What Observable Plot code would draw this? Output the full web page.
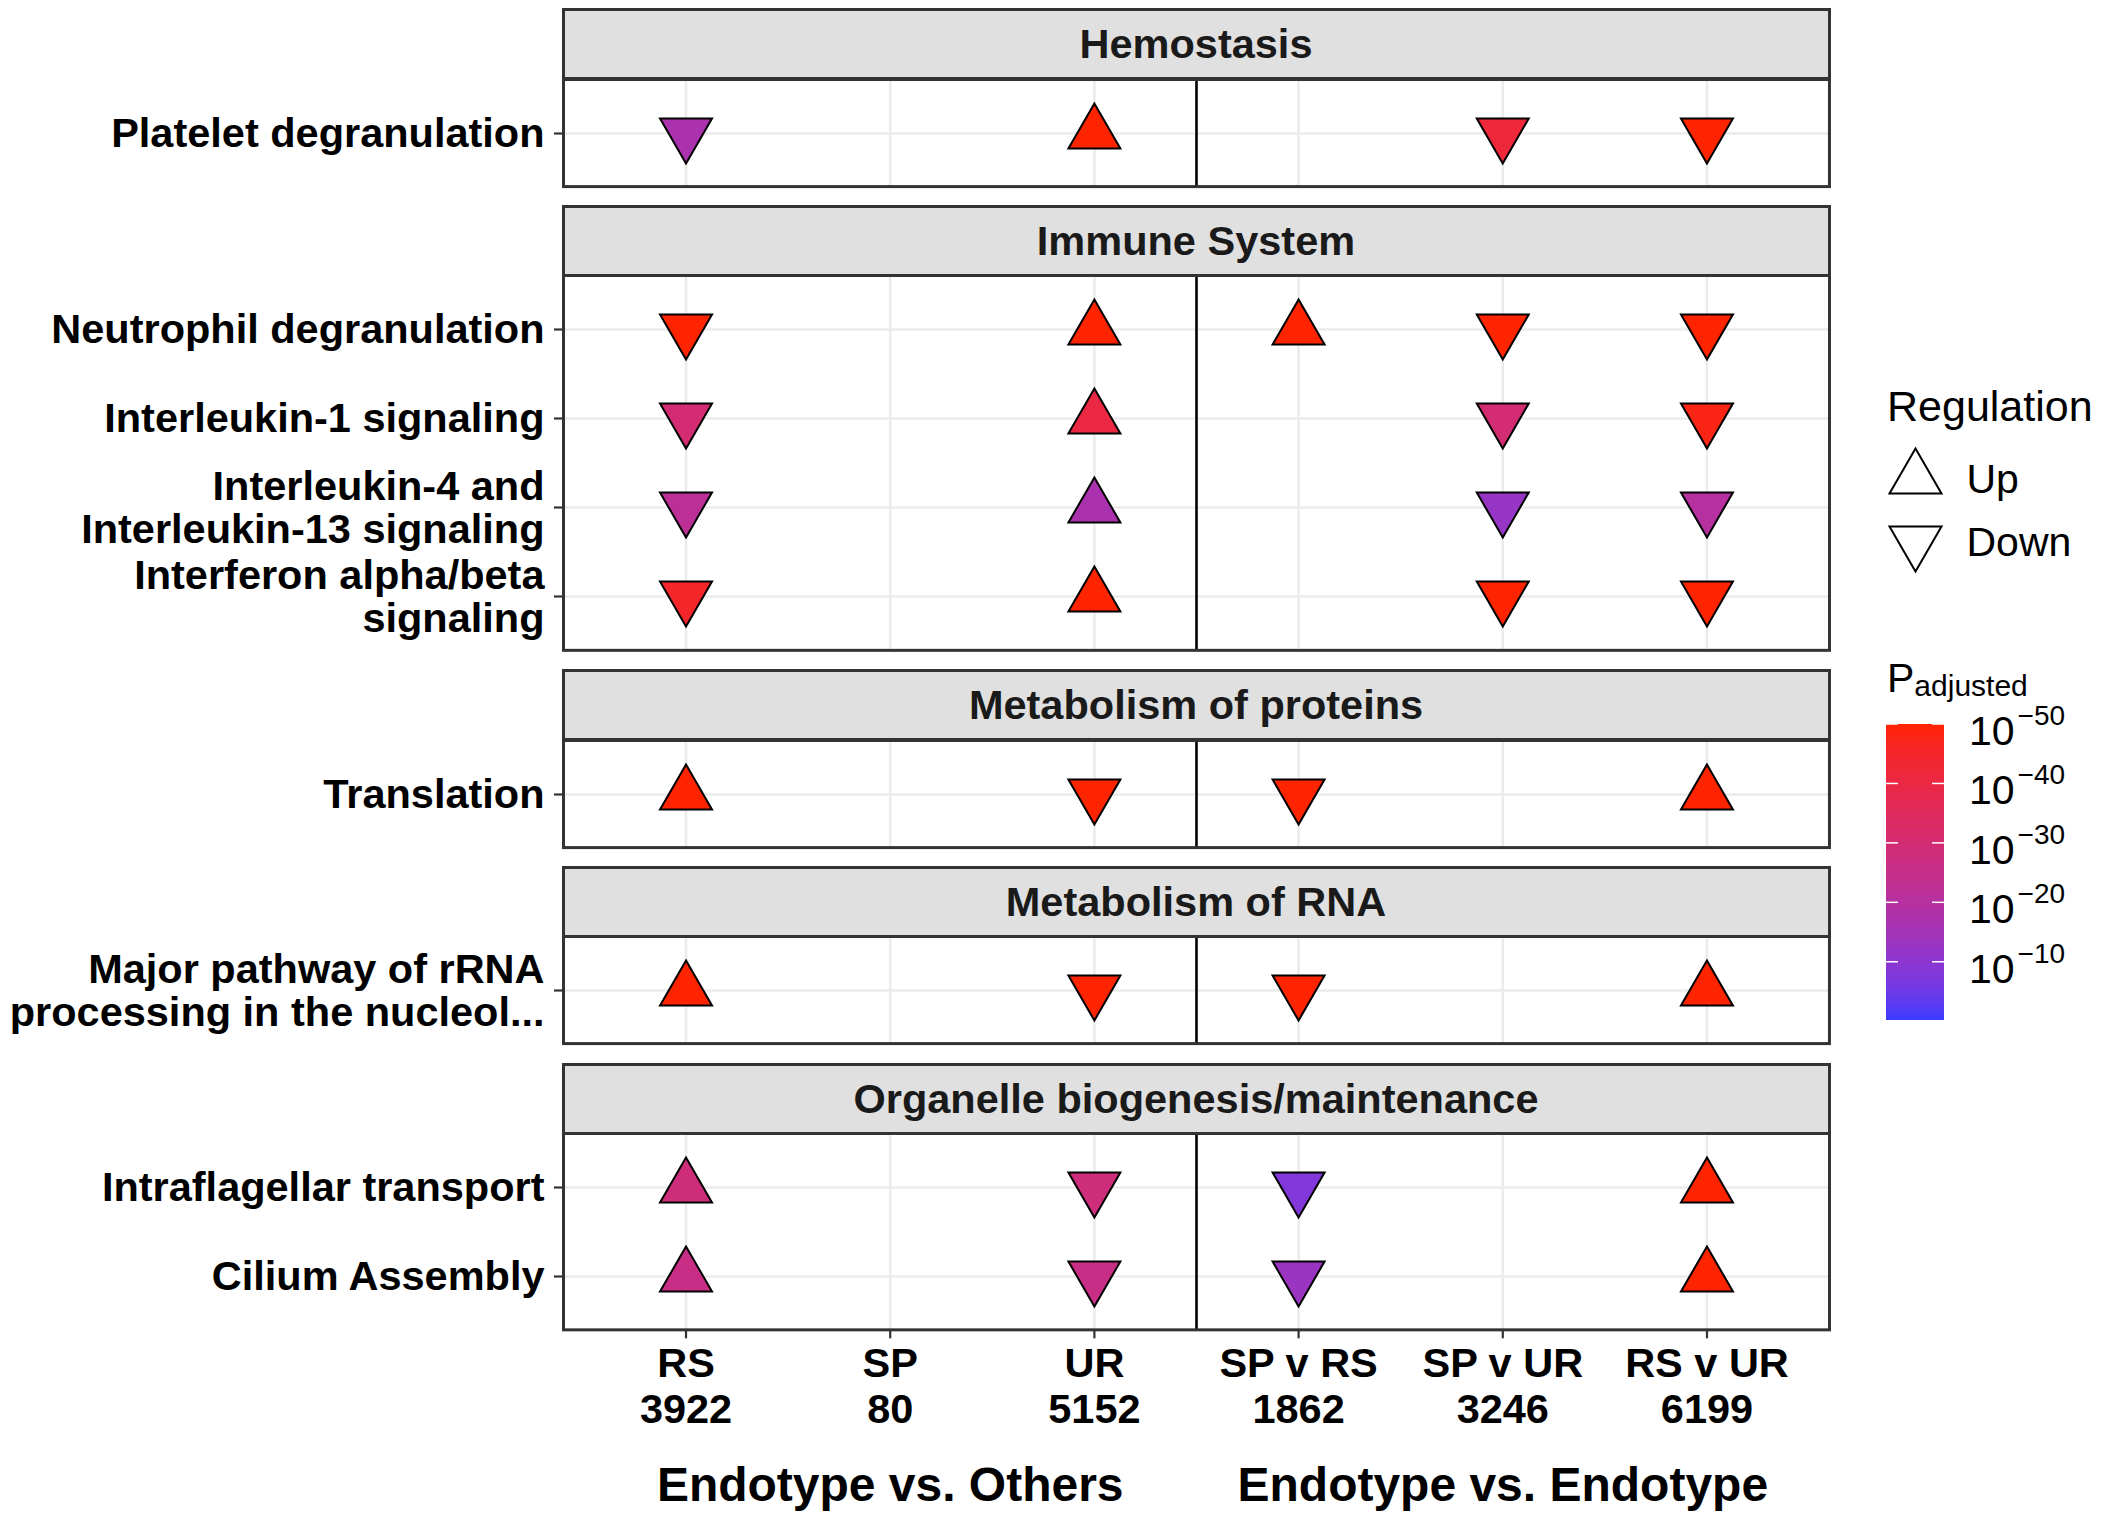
<!DOCTYPE html>
<html>
<head>
<meta charset="utf-8">
<script src="https://cdn.jsdelivr.net/npm/d3@7"></script>
<script src="https://cdn.jsdelivr.net/npm/@observablehq/plot@0.6"></script>
<style>
  html, body { margin: 0; padding: 0; background: #ffffff; }
  #root { position: relative; width: 2107px; height: 1516px; overflow: hidden; background: #ffffff;
          font-family: "Liberation Sans", Arial, Helvetica, sans-serif; }
  .strip { position: absolute; box-sizing: border-box; background: #e0e0e0; border: 3px solid #333333;
           display: flex; align-items: center; justify-content: center;
           font-weight: bold; font-size: 41.5px; color: #1a1a1a; }
</style>
</head>
<body>
<div id="root"></div>
<script>
// ---------------- DATA ----------------
const columns = ["RS", "SP", "UR", "SP v RS", "SP v UR", "RS v UR"];
const columnCounts = ["3922", "80", "5152", "1862", "3246", "6199"];
const groupTitles = ["Endotype vs. Others", "Endotype vs. Endotype"];
const groupCenters = ["SP", "SP v UR"];
const dividerAfter = "UR"; // vertical line between the two comparison groups

const categories = ["Hemostasis", "Immune System", "Metabolism of proteins", "Metabolism of RNA",
                    "Organelle biogenesis/maintenance"];
const pathways = [
  "Platelet degranulation",
  "Neutrophil degranulation",
  "Interleukin-1 signaling",
  "Interleukin-4 and\nInterleukin-13 signaling",
  "Interferon alpha/beta\nsignaling",
  "Translation",
  "Major pathway of rRNA\nprocessing in the nucleol...",
  "Intraflagellar transport",
  "Cilium Assembly"
];
const pathwayCategory = ["Hemostasis", "Immune System", "Immune System", "Immune System", "Immune System",
                         "Metabolism of proteins", "Metabolism of RNA",
                         "Organelle biogenesis/maintenance", "Organelle biogenesis/maintenance"];
// regulation per pathway x column : "Up", "Down" or null
const regulation = [
  ["Down", null, "Up",   null,   "Down", "Down"],
  ["Down", null, "Up",   "Up",   "Down", "Down"],
  ["Down", null, "Up",   null,   "Down", "Down"],
  ["Down", null, "Up",   null,   "Down", "Down"],
  ["Down", null, "Up",   null,   "Down", "Down"],
  ["Up",   null, "Down", "Down", null,   "Up"],
  ["Up",   null, "Down", "Down", null,   "Up"],
  ["Up",   null, "Down", "Down", null,   "Up"],
  ["Up",   null, "Down", "Down", null,   "Up"]
];
// -log10(adjusted p) per pathway x column
const negLog10P = [
  [17, null, 50, null, 42, 50],
  [50, null, 50, 50,   50, 50],
  [30, null, 40, null, 30, 48],
  [22, null, 17, null, 12, 20],
  [45, null, 50, null, 50, 50],
  [50, null, 50, 50,   null, 50],
  [50, null, 50, 50,   null, 50],
  [28, null, 28, 8,    null, 50],
  [26, null, 26, 13,   null, 50]
];
const regulationLevels = ["Up", "Down"];
const colorTicks = [10, 20, 30, 40, 50];
const colorDomain = [0.2, 50];
const colorRange = ["#3a3cff", "#ff2400"];

// ---------------- SETUP ----------------
const FONT = '"Liberation Sans", Arial, Helvetica, sans-serif';
const root = document.getElementById("root");

const cells = [];
pathways.forEach((p, i) => columns.forEach((c, j) => {
  if (regulation[i][j]) cells.push({pathway: p, category: pathwayCategory[i], col: j + 1,
                                    reg: regulation[i][j], v: negLog10P[i][j]});
}));
const colIndex = columns.map((c, i) => i + 1);
const divider = columns.indexOf(dividerAfter) + 1.5;

const sqrt3 = Math.sqrt(3);
const triUp = d3.symbolTriangle;
const triDown = {
  draw(ctx, size) {
    const y = -Math.sqrt(size / (sqrt3 * 3));
    ctx.moveTo(0, -2 * y);
    ctx.lineTo(-sqrt3 * y, y);
    ctx.lineTo(sqrt3 * y, y);
    ctx.closePath();
  }
};
const R = 19.3;

const colorOptions = {type: "linear", domain: colorDomain, range: colorRange, interpolate: "lab", clamp: true};

// layout
const UNIT = 89.25, STRIP_H = 70.6, GAP = 19, TOP = 8;
const LEFT = 563, RIGHT = 1829;

let y0 = TOP;
categories.forEach((cat, k) => {
  const rows = pathways.filter((p, i) => pathwayCategory[i] === cat);
  const bodyH = UNIT * (rows.length - 1 + 1.2);
  const isLast = k === categories.length - 1;

  const strip = document.createElement("div");
  strip.className = "strip";
  strip.textContent = cat;
  strip.style.left = (LEFT - 1.5) + "px";
  strip.style.top = y0 + "px";
  strip.style.width = (RIGHT - LEFT + 3) + "px";
  strip.style.height = (STRIP_H + 1.5) + "px";
  root.appendChild(strip);

  const bodyTop = y0 + STRIP_H;
  const mb = isLast ? 1516 - (bodyTop + bodyH) : 0;
  const data = cells.filter(d => d.category === cat);

  const marks = [
    Plot.gridX(colIndex, {stroke: "#ebebeb", strokeOpacity: 1, strokeWidth: 2.5}),
    Plot.gridY(rows, {stroke: "#ebebeb", strokeOpacity: 1, strokeWidth: 2.5}),
    Plot.ruleX([divider], {stroke: "#000000", strokeWidth: 2.6}),
    Plot.dot(data.filter(d => d.reg === "Up"), {x: "col", y: "pathway", fill: "v", symbol: triUp, r: R,
                                              stroke: "#000000", strokeWidth: 2}),
    Plot.dot(data.filter(d => d.reg === "Down"), {x: "col", y: "pathway", fill: "v", symbol: triDown, r: R,
                                                stroke: "#000000", strokeWidth: 2}),
    Plot.frame({stroke: "#333333", strokeWidth: 3}),
    Plot.axisY(rows, {tickSize: 9, tickPadding: 10, stroke: "#333333", strokeWidth: 2.2, fill: "#000000",
                      fontSize: 41.5, fontWeight: "bold", lineHeight: 1.04, label: null})
  ];
  if (isLast) {
    marks.push(
      Plot.axisX(colIndex, {tickSize: 9, tickPadding: 6, stroke: "#333333", strokeWidth: 2.2, fill: "#000000",
                            fontSize: 41.5, fontWeight: "bold", lineHeight: 1.1, label: null,
                            tickFormat: i => columns[i - 1] + "\n" + columnCounts[i - 1]}),
      Plot.text(groupTitles, {x: (d, i) => columns.indexOf(groupCenters[i]) + 1, text: d => d,
                              frameAnchor: "bottom", dy: 156, fontSize: 48, fontWeight: "bold",
                              fill: "#000000", lineAnchor: "middle"})
    );
  }

  const chart = Plot.plot({
    width: RIGHT + 3, height: bodyH + mb,
    marginLeft: LEFT, marginRight: 3, marginTop: 0, marginBottom: mb,
    style: {background: "transparent", overflow: "visible", fontFamily: FONT, fontSize: "41.5px",
            fontWeight: "bold", color: "#000000"},
    x: {type: "linear", domain: [0.4, 6.6], axis: null},
    y: {type: "point", domain: rows, padding: 0.6, axis: null},
    color: colorOptions,
    marks
  });
  chart.style.position = "absolute";
  chart.style.left = "0px";
  chart.style.top = bodyTop + "px";
  chart.style.maxWidth = "none";
  root.appendChild(chart);

  y0 = bodyTop + bodyH + GAP;
});

// ---------------- LEGENDS ----------------
// Regulation legend title
const titleSvg = d3.create("svg").attr("width", 240).attr("height", 60)
  .style("position", "absolute").style("left", "1880px").style("top", "378px").style("overflow", "visible");
titleSvg.append("text").attr("x", 7).attr("y", 43).attr("font-family", FONT).attr("font-size", 43)
  .attr("fill", "#000").text("Regulation");
root.appendChild(titleSvg.node());

const shapeLegend = Plot.plot({
  width: 220, height: 126, margin: 0,
  style: {background: "transparent", overflow: "visible", fontFamily: FONT, fontSize: "41px", color: "#000"},
  y: {type: "point", domain: regulationLevels, padding: 0.5, axis: null},
  marks: [
    Plot.dot(regulationLevels.filter(d => d === "Up"), {y: d => d, frameAnchor: "left", dx: 35, symbol: triUp,
                                                       r: R, fill: "white", stroke: "black", strokeWidth: 2}),
    Plot.dot(regulationLevels.filter(d => d === "Down"), {y: d => d, frameAnchor: "left", dx: 35, symbol: triDown,
                                                         r: R, fill: "white", stroke: "black", strokeWidth: 2}),
    Plot.text(regulationLevels, {y: d => d, text: d => d, frameAnchor: "left", dx: 86, dy: 1, textAnchor: "start",
                                 fontSize: 41, fill: "#000"})
  ]
});
shapeLegend.style.position = "absolute";
shapeLegend.style.left = "1880px";
shapeLegend.style.top = "446px";
shapeLegend.style.maxWidth = "none";
root.appendChild(shapeLegend);

// Colour bar legend
const colorScale = Plot.scale({color: colorOptions});
const cbY = Plot.scale({y: {type: "linear", domain: colorDomain, range: [1020 - 640, 724 - 640]}});
const cb = d3.create("svg").attr("width", 227).attr("height", 420)
  .style("position", "absolute").style("left", "1880px").style("top", "640px").style("overflow", "visible");
// title P_adjusted
const t = cb.append("text").attr("x", 7).attr("y", 52).attr("font-family", FONT).attr("font-size", 41).attr("fill", "#000");
t.append("tspan").text("P");
t.append("tspan").attr("dy", 4).attr("font-size", 30).text("adjusted");

const grad = cb.append("defs").append("linearGradient").attr("id", "cbgrad")
  .attr("x1", 0).attr("x2", 0).attr("y1", 1).attr("y2", 0);
const nStops = 40;
for (let s = 0; s <= nStops; s++) {
  const v = colorDomain[0] + (colorDomain[1] - colorDomain[0]) * s / nStops;
  grad.append("stop").attr("offset", s / nStops).attr("stop-color", colorScale.apply(v));
}
const barX = 6, barW = 58;
cb.append("rect").attr("x", barX).attr("y", cbY.apply(colorDomain[1])).attr("width", barW)
  .attr("height", cbY.apply(colorDomain[0]) - cbY.apply(colorDomain[1])).attr("fill", "url(#cbgrad)");
colorTicks.forEach(v => {
  const y = cbY.apply(v);
  cb.append("line").attr("x1", barX).attr("x2", barX + 12).attr("y1", y).attr("y2", y)
    .attr("stroke", "white").attr("stroke-width", 1.5);
  cb.append("line").attr("x1", barX + barW - 12).attr("x2", barX + barW).attr("y1", y).attr("y2", y)
    .attr("stroke", "white").attr("stroke-width", 1.5);
  const lab = cb.append("text").attr("x", 89).attr("y", y + 21).attr("font-family", FONT)
    .attr("font-size", 41).attr("fill", "#000");
  lab.append("tspan").text("10");
  lab.append("tspan").attr("dy", -20).attr("dx", 3).attr("font-size", 28).text("\u2212" + v);
});
root.appendChild(cb.node());
</script>
</body>
</html>
